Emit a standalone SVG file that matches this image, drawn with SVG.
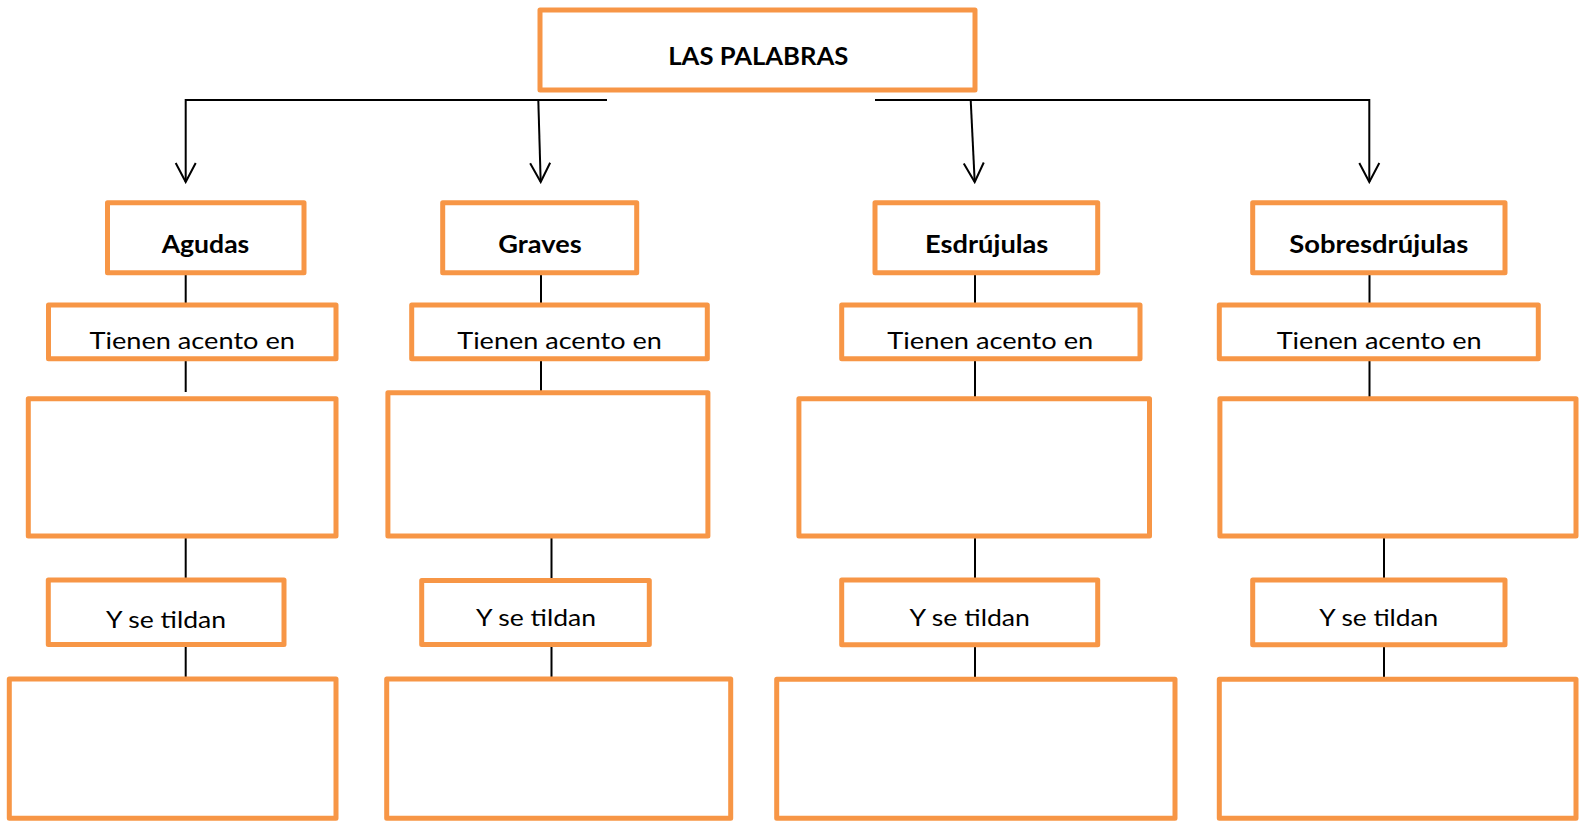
<svg xmlns="http://www.w3.org/2000/svg" width="1579" height="822" viewBox="0 0 1579 822">
<style>
.box{fill:#ffffff;stroke:#F79646;stroke-width:5;stroke-linejoin:round}
.ln{fill:none;stroke:#000000;stroke-width:2}
.t{font-family:Lato,"Liberation Sans",sans-serif;font-size:24px;fill:#000000;text-anchor:middle}
.b{font-weight:bold}
</style>
<defs>
<marker id="arr" markerUnits="userSpaceOnUse" viewBox="-22 -12 24 24" markerWidth="24" markerHeight="24" refX="0" refY="0" orient="auto">
<path d="M-19,-10 L0,0 L-19,10" fill="none" stroke="#000" stroke-width="2"/>
</marker>
</defs>
<rect width="1579" height="822" fill="#ffffff"/>
<g id="connectors">
<path class="ln" d="M607,100 H185.7 V182" marker-end="url(#arr)"/>
<path class="ln" d="M875,100 H1369.3 V182" marker-end="url(#arr)"/>
<path class="ln" d="M538.3,100 L540.7,182" marker-end="url(#arr)"/>
<path class="ln" d="M970.7,100 L974.7,182" marker-end="url(#arr)"/>
<path class="ln" d="M185.7,263 V303 M185.7,360 V392 M185.7,536 V578 M185.7,644 V677"/>
<path class="ln" d="M541,263 V303 M541,359 V391 M551.5,536 V578 M551.5,644 V677"/>
<path class="ln" d="M975,263 V303 M975,359 V397 M975,536 V578 M975,645 V677"/>
<path class="ln" d="M1369.5,263 V303 M1369.5,359 V397 M1384,536 V578 M1384,645 V677"/>
</g>
<g id="root">
<rect class="box" x="540" y="10" width="435" height="80"/>
<text class="t b" x="758.3" y="65" textLength="180" lengthAdjust="spacingAndGlyphs">LAS PALABRAS</text>
</g>
<g id="agudas">
<rect class="box" x="107.5" y="202.7" width="196.5" height="70"/>
<text class="t b" x="205.5" y="252.5" textLength="87.6" lengthAdjust="spacingAndGlyphs">Agudas</text>
</g>
<g id="graves">
<rect class="box" x="442.7" y="202.7" width="194" height="70"/>
<text class="t b" x="540" y="252.5" textLength="83.3" lengthAdjust="spacingAndGlyphs">Graves</text>
</g>
<g id="esdrujulas">
<rect class="box" x="875" y="202.7" width="222.7" height="70"/>
<text class="t b" x="986.7" y="252.5" textLength="123.3" lengthAdjust="spacingAndGlyphs">Esdrújulas</text>
</g>
<g id="sobresdrujulas">
<rect class="box" x="1252.7" y="202.7" width="252.3" height="70"/>
<text class="t b" x="1378.8" y="252.5" textLength="179" lengthAdjust="spacingAndGlyphs">Sobresdrújulas</text>
</g>
<g id="agudas-acento">
<rect class="box" x="48.5" y="305" width="287.5" height="53.7"/>
<text class="t" x="192.2" y="349" textLength="205.5" lengthAdjust="spacingAndGlyphs">Tienen acento en</text>
</g>
<g id="graves-acento">
<rect class="box" x="411.7" y="305" width="295.6" height="53.7"/>
<text class="t" x="559.5" y="349" textLength="204.5" lengthAdjust="spacingAndGlyphs">Tienen acento en</text>
</g>
<g id="esdrujulas-acento">
<rect class="box" x="841.7" y="305" width="298.3" height="53.7"/>
<text class="t" x="990.3" y="349" textLength="206" lengthAdjust="spacingAndGlyphs">Tienen acento en</text>
</g>
<g id="sobresdrujulas-acento">
<rect class="box" x="1219.3" y="305" width="319" height="53.7"/>
<text class="t" x="1379.2" y="349" textLength="205" lengthAdjust="spacingAndGlyphs">Tienen acento en</text>
</g>
<g id="agudas-respuesta1">
<rect class="box" x="28.3" y="398.7" width="307.7" height="137.3"/>
</g>
<g id="graves-respuesta1">
<rect class="box" x="387.9" y="392.7" width="320" height="143.3"/>
</g>
<g id="esdrujulas-respuesta1">
<rect class="box" x="798.9" y="398.7" width="350.6" height="137.3"/>
</g>
<g id="sobresdrujulas-respuesta1">
<rect class="box" x="1219.9" y="398.7" width="356.1" height="137.3"/>
</g>
<g id="agudas-tilde">
<rect class="box" x="48.3" y="580" width="235.7" height="64.5"/>
<text class="t" x="166" y="628" textLength="120" lengthAdjust="spacingAndGlyphs">Y se tildan</text>
</g>
<g id="graves-tilde">
<rect class="box" x="421.7" y="580.5" width="227.6" height="64"/>
<text class="t" x="536" y="626" textLength="120" lengthAdjust="spacingAndGlyphs">Y se tildan</text>
</g>
<g id="esdrujulas-tilde">
<rect class="box" x="841.7" y="580" width="256" height="64.8"/>
<text class="t" x="969.7" y="626" textLength="120.5" lengthAdjust="spacingAndGlyphs">Y se tildan</text>
</g>
<g id="sobresdrujulas-tilde">
<rect class="box" x="1252.7" y="580" width="252.3" height="64.8"/>
<text class="t" x="1378.8" y="626" textLength="119" lengthAdjust="spacingAndGlyphs">Y se tildan</text>
</g>
<g id="agudas-respuesta2">
<rect class="box" x="9.3" y="679" width="326.7" height="139.3"/>
</g>
<g id="graves-respuesta2">
<rect class="box" x="386.7" y="679" width="344" height="139.3"/>
</g>
<g id="esdrujulas-respuesta2">
<rect class="box" x="776.7" y="679.3" width="398.3" height="139"/>
</g>
<g id="sobresdrujulas-respuesta2">
<rect class="box" x="1219.3" y="679.3" width="356.7" height="139"/>
</g>
</svg>
